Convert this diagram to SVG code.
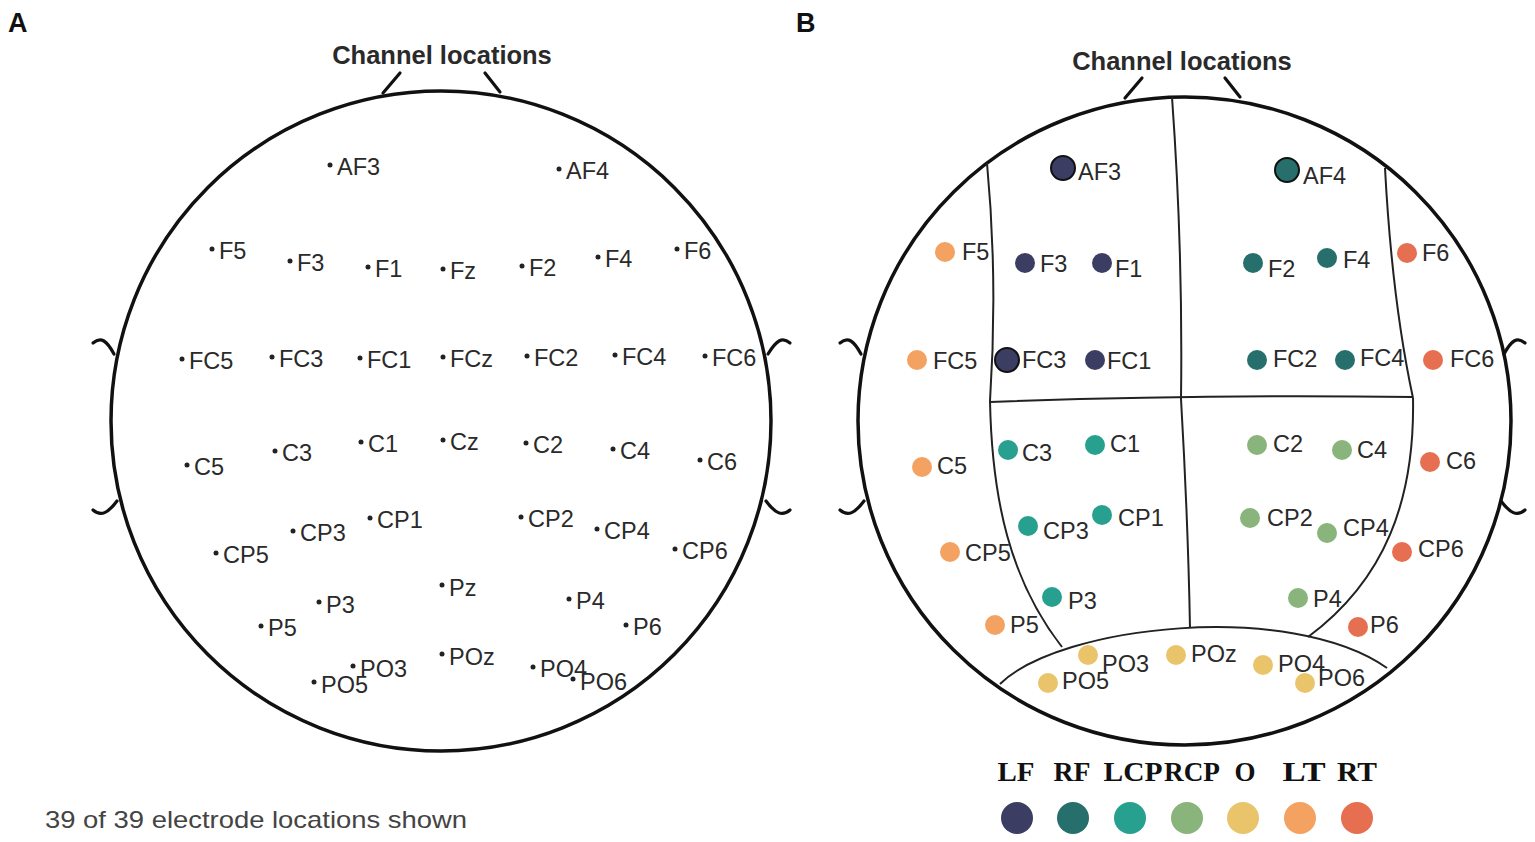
<svg xmlns="http://www.w3.org/2000/svg" width="1535" height="842" viewBox="0 0 1535 842">
<style>
.head{fill:none;stroke:#111;stroke-width:3.5}
.ear{fill:none;stroke:#111;stroke-width:3.2;stroke-linecap:round}
.div{fill:none;stroke:#222;stroke-width:2}
.title{font-family:"Liberation Sans",Arial,sans-serif;font-weight:bold;font-size:25.5px;fill:#2a2a2a;text-anchor:middle}
.lab{font-family:"Liberation Sans",Arial,sans-serif;font-size:23.5px;fill:#2a2a2a}
.dot{fill:#222}
.panel{font-family:"Liberation Sans",Arial,sans-serif;font-weight:bold;font-size:27px;fill:#111}
.leg{font-family:"Liberation Serif","Times New Roman",serif;font-weight:bold;font-size:27px;fill:#111;text-anchor:middle}
.LF{fill:#3b3e62}.RF{fill:#266f6c}.LCP{fill:#28a08f}.RCP{fill:#89b47b}.O{fill:#e9c46a}.LT{fill:#f4a261}.RT{fill:#e76f51}
.ol{stroke:#111;stroke-width:2}
</style>

<text class="panel" x="8" y="32">A</text>
<text class="panel" x="796" y="32">B</text>

<!-- Head A -->
<g id="headA">
<text class="title" x="442" y="64">Channel locations</text>
<circle class="head" cx="441" cy="421" r="330"/>
<path class="ear" d="M383 93 L400 73 M500 92 L485 73"/>
<path class="ear" d="M93 343 C101 336 107 341 114 354"/>
<path class="ear" d="M93 510 C101 517 108 513 117 501"/>
<path class="ear" d="M790 343 C782 336 776 341 768 354"/>
<path class="ear" d="M790 510 C782 517 775 513 766 501"/>
</g>

<g id="electrodesA">
<g id="A-AF3"><circle class="dot" cx="330" cy="165" r="2.5"/><text class="lab" x="337" y="175">AF3</text></g>
<g id="A-AF4"><circle class="dot" cx="559" cy="169" r="2.5"/><text class="lab" x="566" y="179">AF4</text></g>
<g id="A-F5"><circle class="dot" cx="212" cy="249" r="2.5"/><text class="lab" x="219" y="259">F5</text></g>
<g id="A-F3"><circle class="dot" cx="290" cy="261" r="2.5"/><text class="lab" x="297" y="271">F3</text></g>
<g id="A-F1"><circle class="dot" cx="368" cy="267" r="2.5"/><text class="lab" x="375" y="277">F1</text></g>
<g id="A-Fz"><circle class="dot" cx="443" cy="269" r="2.5"/><text class="lab" x="450" y="279">Fz</text></g>
<g id="A-F2"><circle class="dot" cx="522" cy="266" r="2.5"/><text class="lab" x="529" y="276">F2</text></g>
<g id="A-F4"><circle class="dot" cx="598" cy="257" r="2.5"/><text class="lab" x="605" y="267">F4</text></g>
<g id="A-F6"><circle class="dot" cx="677" cy="249" r="2.5"/><text class="lab" x="684" y="259">F6</text></g>
<g id="A-FC5"><circle class="dot" cx="182" cy="359" r="2.5"/><text class="lab" x="189" y="369">FC5</text></g>
<g id="A-FC3"><circle class="dot" cx="272" cy="357" r="2.5"/><text class="lab" x="279" y="367">FC3</text></g>
<g id="A-FC1"><circle class="dot" cx="360" cy="358" r="2.5"/><text class="lab" x="367" y="368">FC1</text></g>
<g id="A-FCz"><circle class="dot" cx="443" cy="357" r="2.5"/><text class="lab" x="450" y="367">FCz</text></g>
<g id="A-FC2"><circle class="dot" cx="527" cy="356" r="2.5"/><text class="lab" x="534" y="366">FC2</text></g>
<g id="A-FC4"><circle class="dot" cx="615" cy="355" r="2.5"/><text class="lab" x="622" y="365">FC4</text></g>
<g id="A-FC6"><circle class="dot" cx="705" cy="356" r="2.5"/><text class="lab" x="712" y="366">FC6</text></g>
<g id="A-C5"><circle class="dot" cx="187" cy="465" r="2.5"/><text class="lab" x="194" y="475">C5</text></g>
<g id="A-C3"><circle class="dot" cx="275" cy="451" r="2.5"/><text class="lab" x="282" y="461">C3</text></g>
<g id="A-C1"><circle class="dot" cx="361" cy="442" r="2.5"/><text class="lab" x="368" y="452">C1</text></g>
<g id="A-Cz"><circle class="dot" cx="443" cy="440" r="2.5"/><text class="lab" x="450" y="450">Cz</text></g>
<g id="A-C2"><circle class="dot" cx="526" cy="443" r="2.5"/><text class="lab" x="533" y="453">C2</text></g>
<g id="A-C4"><circle class="dot" cx="613" cy="449" r="2.5"/><text class="lab" x="620" y="459">C4</text></g>
<g id="A-C6"><circle class="dot" cx="700" cy="460" r="2.5"/><text class="lab" x="707" y="470">C6</text></g>
<g id="A-CP5"><circle class="dot" cx="216" cy="553" r="2.5"/><text class="lab" x="223" y="563">CP5</text></g>
<g id="A-CP3"><circle class="dot" cx="293" cy="531" r="2.5"/><text class="lab" x="300" y="541">CP3</text></g>
<g id="A-CP1"><circle class="dot" cx="370" cy="518" r="2.5"/><text class="lab" x="377" y="528">CP1</text></g>
<g id="A-CP2"><circle class="dot" cx="521" cy="517" r="2.5"/><text class="lab" x="528" y="527">CP2</text></g>
<g id="A-CP4"><circle class="dot" cx="597" cy="529" r="2.5"/><text class="lab" x="604" y="539">CP4</text></g>
<g id="A-CP6"><circle class="dot" cx="675" cy="549" r="2.5"/><text class="lab" x="682" y="559">CP6</text></g>
<g id="A-Pz"><circle class="dot" cx="442" cy="585" r="2.5"/><text class="lab" x="449" y="596">Pz</text></g>
<g id="A-P3"><circle class="dot" cx="319" cy="602" r="2.5"/><text class="lab" x="326" y="613">P3</text></g>
<g id="A-P5"><circle class="dot" cx="261" cy="626" r="2.5"/><text class="lab" x="268" y="636">P5</text></g>
<g id="A-P4"><circle class="dot" cx="569" cy="599" r="2.5"/><text class="lab" x="576" y="609">P4</text></g>
<g id="A-P6"><circle class="dot" cx="626" cy="625" r="2.5"/><text class="lab" x="633" y="635">P6</text></g>
<g id="A-POz"><circle class="dot" cx="442" cy="654" r="2.5"/><text class="lab" x="449" y="665">POz</text></g>
<g id="A-PO3"><circle class="dot" cx="353" cy="666" r="2.5"/><text class="lab" x="360" y="677">PO3</text></g>
<g id="A-PO5"><circle class="dot" cx="314" cy="682" r="2.5"/><text class="lab" x="321" y="693">PO5</text></g>
<g id="A-PO4"><circle class="dot" cx="533" cy="667" r="2.5"/><text class="lab" x="540" y="677">PO4</text></g>
<g id="A-PO6"><circle class="dot" cx="573" cy="679" r="2.5"/><text class="lab" x="580" y="690">PO6</text></g>
</g>

<text class="lab" x="45" y="828" style="fill:#444;font-size:24px" textLength="422" lengthAdjust="spacingAndGlyphs">39 of 39 electrode locations shown</text>

<!-- Head B -->
<g id="headB">
<text class="title" x="1182" y="70">Channel locations</text>
<ellipse class="head" cx="1184.5" cy="421" rx="326.5" ry="324"/>
<path class="ear" d="M1125 98 L1142 78 M1240 97 L1225 78"/>
<path class="ear" d="M840 343 C848 336 854 341 861 354"/>
<path class="ear" d="M840 510 C848 517 855 513 864 501"/>
<path class="ear" d="M1525 343 C1517 336 1511 341 1504 354"/>
<path class="ear" d="M1525 510 C1517 517 1510 513 1501 501"/>
</g>

<g id="regions">
<path class="div" d="M987 163 Q998 280 990 401"/>
<path class="div" d="M990 401 C992 500 1010 580 1062 647"/>
<path class="div" d="M1172 97 Q1183 250 1181 399"/>
<path class="div" d="M1181 399 Q1188 520 1190 628"/>
<path class="div" d="M990 402 Q1200 394 1413 397"/>
<path class="div" d="M1385 168 Q1392 300 1413 398"/>
<path class="div" d="M1413 398 C1415 500 1385 580 1308 637"/>
<path class="div" d="M1000 684 C1060 625 1290 600 1387 668"/>
</g>

<g id="electrodesB">
<g id="B-AF3"><circle class="LF ol" cx="1063" cy="168" r="12"/><text class="lab" x="1078" y="180">AF3</text></g>
<g id="B-F5"><circle class="LT" cx="945" cy="252" r="10"/><text class="lab" x="962" y="260">F5</text></g>
<g id="B-F3"><circle class="LF" cx="1025" cy="263" r="10"/><text class="lab" x="1040" y="272">F3</text></g>
<g id="B-F1"><circle class="LF" cx="1102" cy="263" r="10"/><text class="lab" x="1115" y="277">F1</text></g>
<g id="B-FC5"><circle class="LT" cx="917" cy="360" r="10"/><text class="lab" x="933" y="369">FC5</text></g>
<g id="B-FC3"><circle class="LF ol" cx="1007" cy="360" r="12"/><text class="lab" x="1022" y="368">FC3</text></g>
<g id="B-FC1"><circle class="LF" cx="1095" cy="360" r="10"/><text class="lab" x="1107" y="369">FC1</text></g>
<g id="B-AF4"><circle class="RF ol" cx="1287" cy="170" r="12"/><text class="lab" x="1303" y="184">AF4</text></g>
<g id="B-F2"><circle class="RF" cx="1253" cy="263" r="10"/><text class="lab" x="1268" y="277">F2</text></g>
<g id="B-F4"><circle class="RF" cx="1327" cy="258" r="10"/><text class="lab" x="1343" y="268">F4</text></g>
<g id="B-F6"><circle class="RT" cx="1407" cy="253" r="10"/><text class="lab" x="1422" y="261">F6</text></g>
<g id="B-FC2"><circle class="RF" cx="1257" cy="360" r="10"/><text class="lab" x="1273" y="367">FC2</text></g>
<g id="B-FC4"><circle class="RF" cx="1345" cy="360" r="10"/><text class="lab" x="1360" y="366">FC4</text></g>
<g id="B-FC6"><circle class="RT" cx="1433" cy="360" r="10"/><text class="lab" x="1450" y="367">FC6</text></g>
<g id="B-C5"><circle class="LT" cx="922" cy="467" r="10"/><text class="lab" x="937" y="474">C5</text></g>
<g id="B-C3"><circle class="LCP" cx="1008" cy="450" r="10"/><text class="lab" x="1022" y="461">C3</text></g>
<g id="B-C1"><circle class="LCP" cx="1095" cy="445" r="10"/><text class="lab" x="1110" y="452">C1</text></g>
<g id="B-CP5"><circle class="LT" cx="950" cy="552" r="10"/><text class="lab" x="965" y="561">CP5</text></g>
<g id="B-CP3"><circle class="LCP" cx="1028" cy="526" r="10"/><text class="lab" x="1043" y="539">CP3</text></g>
<g id="B-CP1"><circle class="LCP" cx="1102" cy="515" r="10"/><text class="lab" x="1118" y="526">CP1</text></g>
<g id="B-P3"><circle class="LCP" cx="1052" cy="597" r="10"/><text class="lab" x="1068" y="609">P3</text></g>
<g id="B-P5"><circle class="LT" cx="995" cy="625" r="10"/><text class="lab" x="1010" y="633">P5</text></g>
<g id="B-PO3"><circle class="O" cx="1088" cy="655" r="10"/><text class="lab" x="1102" y="672">PO3</text></g>
<g id="B-PO5"><circle class="O" cx="1048" cy="683" r="10"/><text class="lab" x="1062" y="689">PO5</text></g>
<g id="B-POz"><circle class="O" cx="1176" cy="655" r="10"/><text class="lab" x="1191" y="662">POz</text></g>
<g id="B-C2"><circle class="RCP" cx="1257" cy="445" r="10"/><text class="lab" x="1273" y="452">C2</text></g>
<g id="B-C4"><circle class="RCP" cx="1342" cy="450" r="10"/><text class="lab" x="1357" y="458">C4</text></g>
<g id="B-C6"><circle class="RT" cx="1430" cy="462" r="10"/><text class="lab" x="1446" y="469">C6</text></g>
<g id="B-CP2"><circle class="RCP" cx="1250" cy="518" r="10"/><text class="lab" x="1267" y="526">CP2</text></g>
<g id="B-CP4"><circle class="RCP" cx="1327" cy="533" r="10"/><text class="lab" x="1343" y="536">CP4</text></g>
<g id="B-CP6"><circle class="RT" cx="1402" cy="552" r="10"/><text class="lab" x="1418" y="557">CP6</text></g>
<g id="B-P4"><circle class="RCP" cx="1298" cy="598" r="10"/><text class="lab" x="1313" y="607">P4</text></g>
<g id="B-P6"><circle class="RT" cx="1358" cy="627" r="10"/><text class="lab" x="1370" y="633">P6</text></g>
<g id="B-PO4"><circle class="O" cx="1263" cy="665" r="10"/><text class="lab" x="1278" y="672">PO4</text></g>
<g id="B-PO6"><circle class="O" cx="1305" cy="683" r="10"/><text class="lab" x="1318" y="686">PO6</text></g>
</g>

<g id="legend">
<text class="leg" x="1016" y="781" textLength="37" lengthAdjust="spacingAndGlyphs">LF</text>
<text class="leg" x="1072" y="781" textLength="37" lengthAdjust="spacingAndGlyphs">RF</text>
<text class="leg" x="1133" y="781" textLength="59" lengthAdjust="spacingAndGlyphs">LCP</text>
<text class="leg" x="1192" y="781" textLength="56" lengthAdjust="spacingAndGlyphs">RCP</text>
<text class="leg" x="1245" y="781">O</text>
<text class="leg" x="1304" y="781" textLength="43" lengthAdjust="spacingAndGlyphs">LT</text>
<text class="leg" x="1357" y="781" textLength="40" lengthAdjust="spacingAndGlyphs">RT</text>
<circle class="LF" cx="1017" cy="818" r="16"/>
<circle class="RF" cx="1073" cy="818" r="16"/>
<circle class="LCP" cx="1130" cy="818" r="16"/>
<circle class="RCP" cx="1187" cy="818" r="16"/>
<circle class="O" cx="1243" cy="818" r="16"/>
<circle class="LT" cx="1300" cy="818" r="16"/>
<circle class="RT" cx="1357" cy="818" r="16"/>
</g>
</svg>
